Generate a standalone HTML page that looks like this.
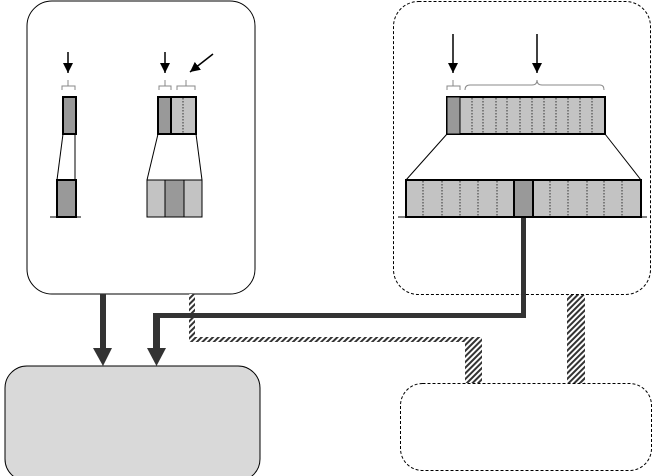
<!DOCTYPE html>
<html><head><style>body{margin:0;background:#fff}svg{display:block}</style></head><body>
<svg width="653" height="476" viewBox="0 0 653 476" xmlns="http://www.w3.org/2000/svg">
<defs>
<pattern id="h" width="4" height="4" patternUnits="userSpaceOnUse" patternTransform="rotate(45)">
<rect width="4" height="4" fill="#fff"/><rect width="2" height="4" fill="#333"/></pattern>
<marker id="a" viewBox="0 0 10 10" refX="10" refY="5" markerWidth="10" markerHeight="10" orient="auto" markerUnits="userSpaceOnUse"><path d="M0 0 L10 5 L0 10 Z" fill="#000"/></marker>
</defs>
<rect x="27" y="1" width="228" height="293" rx="25" fill="#fff" stroke="#000" stroke-width="1"/>
<rect x="393.5" y="1.5" width="257" height="293" rx="25" fill="#fff" stroke="#000" stroke-dasharray="3,2"/>
<rect x="5" y="366" width="255" height="115" rx="22" fill="#d9d9d9" stroke="#000"/>
<rect x="400.5" y="383.5" width="251" height="87" rx="22" fill="#fff" stroke="#000" stroke-dasharray="3,2"/>
<rect x="189" y="294" width="6" height="48" fill="url(#h)"/>
<rect x="189" y="337" width="293" height="5" fill="url(#h)"/>
<rect x="465" y="337" width="17" height="46" fill="url(#h)"/>
<rect x="567" y="295" width="18" height="88" fill="url(#h)"/>
<g fill="#333">
<rect x="100" y="294" width="6" height="56"/><path d="M93 348 L112 348 L103 366 Z"/>
<rect x="521" y="217" width="5" height="101"/><rect x="153" y="313" width="373" height="5"/>
<rect x="153" y="313" width="7" height="37"/><path d="M147 348 L166 348 L156.5 366 Z"/>
</g>
<g stroke="#000" fill="none">
<line x1="63" y1="134" x2="57" y2="180"/><line x1="75" y1="134" x2="75" y2="180"/>
<line x1="158" y1="134" x2="147" y2="180"/><line x1="196" y1="134" x2="202" y2="180"/>
<line x1="50" y1="217" x2="81" y2="217"/>
</g>
<rect x="63" y="97" width="13" height="37" fill="#999" stroke="#000" stroke-width="2"/>
<rect x="57" y="180" width="19" height="37" fill="#999" stroke="#000" stroke-width="2"/>
<rect x="158" y="97" width="38" height="37" fill="#c3c3c3" stroke="#000" stroke-width="2"/>
<rect x="158" y="97" width="13" height="37" fill="#999" stroke="#000" stroke-width="2"/>
<line x1="183" y1="98" x2="183" y2="133" stroke="#333" stroke-dasharray="1.5,1.5"/>
<rect x="147" y="180" width="55" height="37" fill="#c3c3c3" stroke="#000"/>
<rect x="165" y="180" width="19" height="37" fill="#999" stroke="#000"/>
<g stroke="#000" stroke-width="1.5">
<line x1="68" y1="52" x2="68" y2="73" marker-end="url(#a)"/>
<line x1="165" y1="52" x2="165" y2="73" marker-end="url(#a)"/>
<line x1="213" y1="54" x2="190" y2="72" marker-end="url(#a)"/>
<line x1="453" y1="34" x2="453" y2="73" marker-end="url(#a)"/>
<line x1="537" y1="34" x2="537" y2="73" marker-end="url(#a)"/>
</g>
<g stroke="#888" fill="none" stroke-width="1">
<path d="M62 90 V86 H68 V80 M68 86 H75 V90"/>
<path d="M159 90 V86 H165 V80 M165 86 H171 V90"/>
<path d="M177 90 V86 H186 V80 M186 86 H195 V90"/>
<path d="M447 90 V86 H453 V80 M453 86 H460 V90"/>
<path d="M465 90 Q465 85 470 85 H532 Q537 85 537 80 Q537 85 542 85 H600 Q604 85 604 90"/>
</g>
<g stroke="#000" fill="none">
<line x1="447" y1="134" x2="406" y2="180"/><line x1="605" y1="134" x2="641" y2="180"/>
<line x1="398" y1="217" x2="647" y2="217"/>
</g>
<rect x="447" y="97" width="158" height="37" fill="#c3c3c3" stroke="#000" stroke-width="2"/>
<rect x="447" y="97" width="13" height="37" fill="#999" stroke="#000" stroke-width="1"/>
<rect x="406" y="180" width="235" height="37" fill="#c3c3c3"/>
<g stroke="#333" stroke-dasharray="1.5,1.5">
<path d="M472 98V133M483 98V133M496 98V133M507 98V133M520 98V133M532 98V133M544 98V133M556 98V133M568 98V133M580 98V133M592 98V133"/>
<path d="M423 181V216M442 181V216M460 181V216M478 181V216M497 181V216M550 181V216M568 181V216M587 181V216M604 181V216M622 181V216"/>
</g>
<rect x="406" y="180" width="235" height="37" fill="none" stroke="#000" stroke-width="2"/>
<rect x="514" y="180" width="19" height="37" fill="#999" stroke="#000" stroke-width="2"/>
</svg>
</body></html>
